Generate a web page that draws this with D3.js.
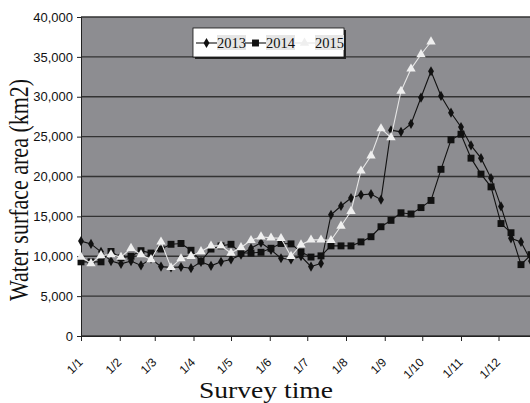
<!DOCTYPE html>
<html>
<head>
<meta charset="utf-8">
<script src="https://cdn.jsdelivr.net/npm/d3@7"></script>
<style>
  body { margin: 0; background: #fff; }
  .axis text { font-family: "Liberation Sans", Arial, sans-serif; fill: #111; }
  .axis path, .axis line { stroke: #222; }
</style>
</head>
<body>
<div id="chart"></div>
<script>
// 8-day survey composites (day of year)
var days = [1,9,17,25,33,41,49,57,65,73,81,89,97,105,113,121,129,137,145,153,161,169,177,185,
            193,201,209,217,225,233,241,249,257,265,273,281,289,297,305,313,321,329,337,345,353,361];

var area2013 = [11900,11550,10550,9400,9050,9400,8850,9700,8700,8600,8650,8500,9300,8800,9300,9600,
                10200,11000,11700,10800,9750,9600,10000,8700,9100,15200,16300,17300,17700,17800,17100,
                25800,25600,26600,29900,33200,30100,28000,26200,23900,22300,19800,16250,12250,11800,9400];
var area2014 = [9300,9300,9300,10600,9800,10000,10700,10400,10900,11500,11600,10750,9400,10900,11300,11500,
                10400,10400,10500,11000,11600,11550,10550,9900,10050,11300,11300,11300,11800,12450,13700,
                14500,15450,15300,16100,17000,20900,24600,25300,22300,20300,18700,14100,12950,8950,10200];
var area2015 = [9900,9100,10100,10200,9900,11000,10200,9600,11800,8600,9700,10000,10600,11300,11300,10400,
                11100,12000,12450,12300,12250,10000,11450,12050,12050,12000,13800,15650,20700,22600,26000,
                24900,30700,33500,35300,36900];

var seriesNames = ["2013", "2014", "2015"];
var monthLabels = ["1/1","1/2","1/3","1/4","1/5","1/6","1/7","1/8","1/9","1/10","1/11","1/12"];
var yTicks = [0,5000,10000,15000,20000,25000,30000,35000,40000];

var W = 530, H = 403;
var plotLeft = 81, plotTop = 17, plotBottom = 336;

var svg = d3.select("#chart").append("svg")
    .attr("width", W).attr("height", H);

var x = d3.scaleUtc()
    .domain([new Date(Date.UTC(2013,0,1)), new Date(Date.UTC(2014,0,1))])
    .range([plotLeft, plotLeft + 365 * 1.25]);
var y = d3.scaleLinear().domain([0, 40000]).range([plotBottom, plotTop]);

function dayDate(d) { return new Date(Date.UTC(2013, 0, d)); }
var months = monthLabels.map(function(m, i){ return new Date(Date.UTC(2013, i, 1)); });

// plot area
svg.append("rect")
    .attr("x", x.range()[0]).attr("y", plotTop)
    .attr("width", x.range()[1] - x.range()[0]).attr("height", plotBottom - plotTop)
    .attr("fill", "#8d8d91");

svg.append("g").selectAll("line")
    .data(yTicks).enter().append("line")
    .attr("x1", x.range()[0]).attr("x2", x.range()[1])
    .attr("y1", function(d){ return y(d); }).attr("y2", function(d){ return y(d); })
    .attr("stroke", "#333").attr("stroke-width", 1.4);

// axes
var yAxis = svg.append("g").attr("class", "axis")
    .attr("transform", "translate(" + plotLeft + ",0)")
    .call(d3.axisLeft(y).tickValues(yTicks).tickFormat(d3.format(",")).tickSize(4).tickPadding(4));
yAxis.selectAll("text").style("font-size", "13px");

var xAxis = svg.append("g").attr("class", "axis")
    .attr("transform", "translate(0," + plotBottom + ")")
    .call(d3.axisBottom(x).tickValues(months).tickFormat(function(d, i){ return monthLabels[i]; }).tickSize(5));
xAxis.selectAll("text")
    .style("font-size", "12px")
    .attr("text-anchor", "end")
    .attr("y", 0).attr("dy", "0.35em")
    .attr("transform", "translate(-1,24) rotate(-45)");

// series
var series = [
  {name: seriesNames[0], values: area2013, line: "#111", fill: "#111", symbol: d3.symbolDiamond, size: 30},
  {name: seriesNames[1], values: area2014, line: "#111", fill: "#111", symbol: d3.symbolSquare, size: 48},
  {name: seriesNames[2], values: area2015, line: "#e6e6e6", fill: "#efefef", symbol: d3.symbolTriangle, size: 38}
];

var line = d3.line()
    .x(function(d, i){ return x(dayDate(days[i])); })
    .y(function(d){ return y(d); });

series.forEach(function(s){
  var g = svg.append("g");
  g.append("path")
    .attr("d", line(s.values))
    .attr("fill", "none").attr("stroke", s.line).attr("stroke-width", 1.1);
  g.selectAll("path.pt").data(s.values).enter().append("path")
    .attr("class", "pt")
    .attr("d", d3.symbol().type(s.symbol).size(s.size))
    .attr("transform", function(d, i){ return "translate(" + x(dayDate(days[i])) + "," + y(d) + ")"; })
    .attr("fill", s.fill);
});

// legend
var lg = svg.append("g").attr("transform", "translate(193,28)");
lg.append("rect").attr("x", 2).attr("y", 2).attr("width", 151).attr("height", 29).attr("fill", "#222");
lg.append("rect").attr("width", 151).attr("height", 29).attr("fill", "#fff")
    .attr("stroke", "#111").attr("stroke-width", 0.8);
var item = lg.selectAll("g.item").data(series).enter().append("g")
    .attr("class", "item")
    .attr("transform", function(d, i){ return "translate(" + (3 + i * 49) + ",15)"; });
item.append("rect").attr("x", 21).attr("y", -8).attr("width", 29).attr("height", 15).attr("fill", "#e6e6e6");
item.append("line").attr("x1", 0).attr("x2", 21)
    .attr("stroke", function(d){ return d.line; }).attr("stroke-width", 1.1);
item.append("path")
    .attr("d", function(d){ return d3.symbol().type(d.symbol).size(d.size)(); })
    .attr("transform", "translate(10.5,0)")
    .attr("fill", function(d){ return d.fill; });
item.append("text")
    .attr("x", 21).attr("dy", "0.35em")
    .style("font-family", "'Liberation Serif', 'Times New Roman', serif")
    .style("font-size", "14.5px").attr("fill", "#111")
    .text(function(d){ return d.name; });

// axis titles
svg.append("text")
    .attr("transform", "translate(28,190) scale(1.2,1) rotate(-90)")
    .attr("text-anchor", "middle")
    .style("font-family", "'Liberation Serif', 'Times New Roman', serif")
    .style("font-size", "22px").attr("fill", "#111")
    .text("Water surface area (km2)");

svg.append("text")
    .attr("transform", "translate(266,398) scale(1.2,1)")
    .attr("text-anchor", "middle")
    .style("font-family", "'Liberation Serif', 'Times New Roman', serif")
    .style("font-size", "23px").attr("fill", "#111")
    .text("Survey time");
</script>
</body>
</html>
